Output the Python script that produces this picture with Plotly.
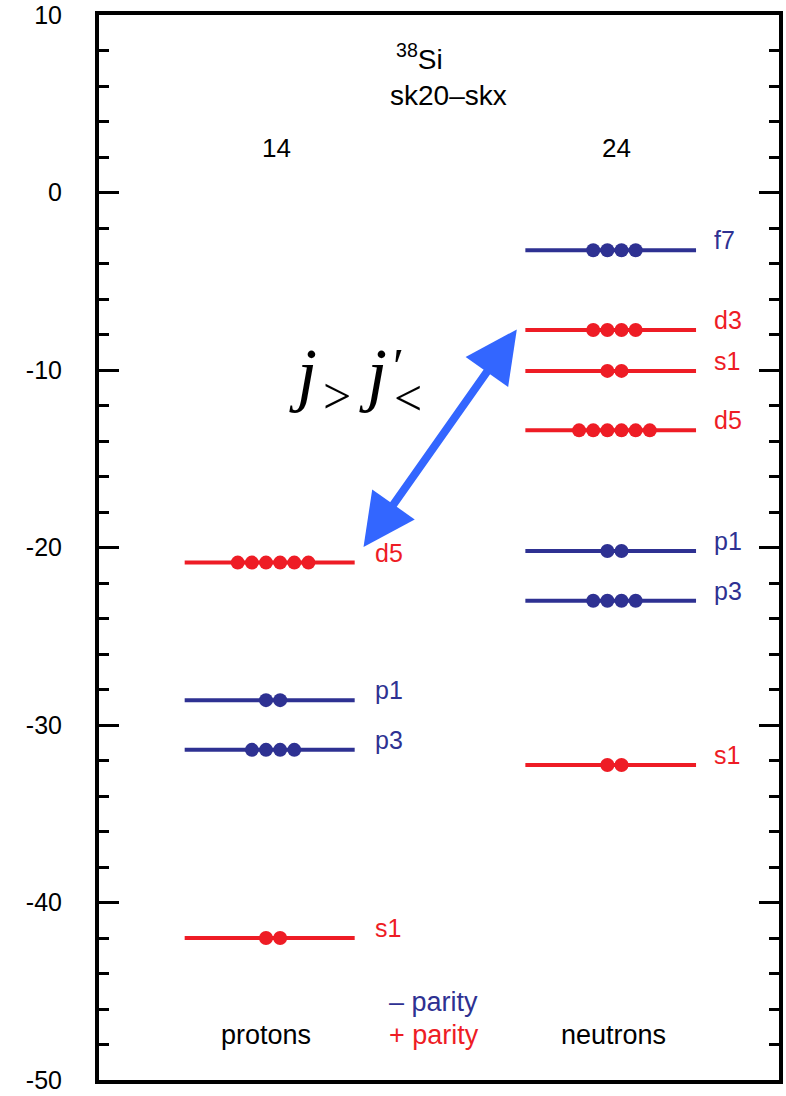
import plotly.graph_objects as go

# ---- data ----
proton_orbits = ["d5", "p1", "p3", "s1"]
proton_energies = [-20.85, -28.6, -31.4, -42.0]
proton_occupancy = [6, 2, 4, 2]
proton_parity = ["+", "-", "-", "+"]

neutron_orbits = ["f7", "d3", "s1", "d5", "p1", "p3", "s1"]
neutron_energies = [-3.25, -7.75, -10.05, -13.4, -20.2, -23.0, -32.25]
neutron_occupancy = [4, 4, 2, 6, 2, 4, 2]
neutron_parity = ["-", "+", "+", "+", "-", "-", "+"]

y_ticks = [10, 0, -10, -20, -30, -40, -50]
y_tick_text = ["10", "0", "-10", "-20", "-30", "-40", "-50"]
proton_number = "14"
neutron_number = "24"
arrow_from = (6.16, -7.63)   # neutron d3 side
arrow_to = (3.89, -19.97)    # proton d5 side

# ---- style ----
RED = "#ee1c25"
BLUE = "#2e3192"
ARROW = "#3366ff"
FONT = "Liberation Sans, Arial, sans-serif"
SERIF = "Liberation Serif, serif"

columns = {
    "p": dict(x0=1.26, x1=3.76, dotc=2.56, lab=4.03),
    "n": dict(x0=6.27, x1=8.78, dotc=7.58, lab=9.02),
}
DOT_SP = 0.208

fig = go.Figure()


def add_column(key, orbits, energies, occ, parity):
    c = columns[key]
    for name, e, n, par in zip(orbits, energies, occ, parity):
        col = RED if par == "+" else BLUE
        fig.add_trace(go.Scatter(x=[c["x0"], c["x1"]], y=[e, e], mode="lines",
                                 line=dict(color=col, width=4), hoverinfo="skip",
                                 showlegend=False))
        xs = [c["dotc"] + (i - (n - 1) / 2) * DOT_SP for i in range(n)]
        fig.add_trace(go.Scatter(x=xs, y=[e] * n, mode="markers",
                                 marker=dict(color=col, size=14, line=dict(width=0)),
                                 hoverinfo="skip", showlegend=False))
        fig.add_annotation(x=c["lab"], y=e, text=name, showarrow=False,
                           xanchor="left", yanchor="middle", yshift=10,
                           font=dict(size=25, color=col, family=FONT))


add_column("p", proton_orbits, proton_energies, proton_occupancy, proton_parity)
add_column("n", neutron_orbits, neutron_energies, neutron_occupancy, neutron_parity)

txt = dict(showarrow=False, xanchor="center", yanchor="middle")
fig.add_annotation(x=4.71, y=7.63, text="<sup>38</sup>Si", font=dict(size=28, color="black", family=FONT), **txt)
fig.add_annotation(x=5.14, y=5.49, text="sk20–skx", font=dict(size=28, color="black", family=FONT), **txt)
fig.add_annotation(x=2.61, y=2.5, text=proton_number, font=dict(size=26, color="black", family=FONT), **txt)
fig.add_annotation(x=7.61, y=2.5, text=neutron_number, font=dict(size=26, color="black", family=FONT), **txt)
fig.add_annotation(x=2.46, y=-47.46, text="protons", font=dict(size=27, color="black", family=FONT), **txt)
fig.add_annotation(x=7.57, y=-47.46, text="neutrons", font=dict(size=27, color="black", family=FONT), **txt)
fig.add_annotation(x=4.92, y=-45.6, text="– parity", font=dict(size=27, color=BLUE, family=FONT), **txt)
fig.add_annotation(x=4.92, y=-47.46, text="+ parity", font=dict(size=27, color=RED, family=FONT), **txt)

# math label j_> j'_<  (built from pieces)
math_parts = [
    ("<i>j</i>", 3.0, -10.2, 72),
    (">", 3.50, -11.45, 50),
    ("<i>j</i>", 4.03, -10.2, 72),
    ("′", 4.40, -9.75, 50),
    ("<", 4.54, -11.6, 50),
]
for t, mx, my, fs in math_parts:
    fig.add_annotation(x=mx, y=my, text=t, font=dict(size=fs, color="black", family=SERIF), **txt)

# double-headed arrow
fig.add_annotation(x=arrow_to[0], y=arrow_to[1], ax=arrow_from[0], ay=arrow_from[1],
                   xref="x", yref="y", axref="x", ayref="y", text="",
                   showarrow=True, arrowhead=2, startarrowhead=2, arrowside="end+start",
                   arrowwidth=8, arrowsize=1.3, startarrowsize=1.3, arrowcolor=ARROW)

fig.update_xaxes(range=[0, 10], showticklabels=False, ticks="", showgrid=False,
                 zeroline=False, showline=True, linewidth=4, linecolor="black", mirror=True,
                 automargin=False)
fig.update_yaxes(range=[-50, 10], tickvals=y_ticks, ticktext=y_tick_text, ticks="inside",
                 ticklen=20, tickwidth=3, automargin=False,
                 tickcolor="black", showgrid=False, zeroline=False, showline=True,
                 linewidth=4, linecolor="black", mirror="ticks",
                 tickfont=dict(size=25, color="black", family=FONT), ticklabelstandoff=28,
                 minor=dict(dtick=2, ticks="inside", ticklen=10, tickwidth=3, tickcolor="black",
                            showgrid=False))

fig.update_layout(width=786, height=1096, margin=dict(l=99, r=7, t=15, b=16),
                  plot_bgcolor="white", paper_bgcolor="white", showlegend=False)

fig.write_html("out.html")
